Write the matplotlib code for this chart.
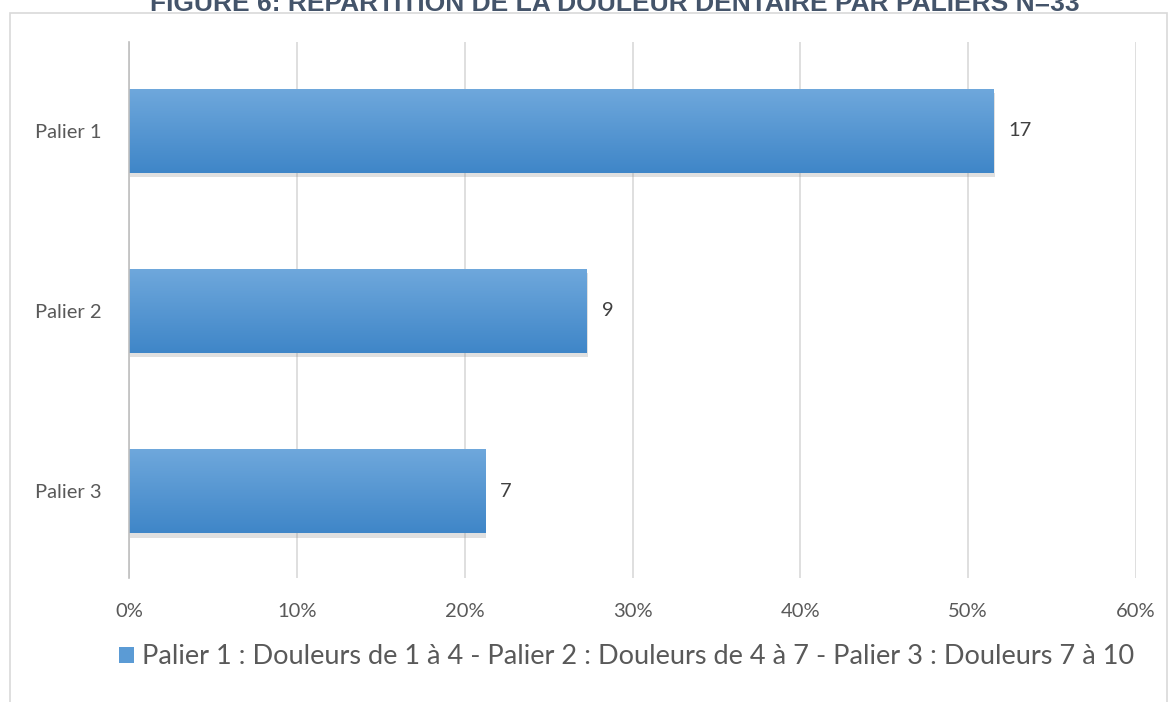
import numpy as np
import matplotlib.pyplot as plt
import matplotlib.patheffects as pe
from matplotlib.patches import Rectangle

categories = ['Palier 1', 'Palier 2', 'Palier 3']
counts = [17, 9, 7]
total = 33
percents = [c / total * 100 for c in counts]
xticks = [0, 10, 20, 30, 40, 50, 60]
legend_label = 'Palier 1 : Douleurs de 1 à 4 - Palier 2 : Douleurs de 4 à 7 - Palier 3 : Douleurs 7 à 10'
title = 'FIGURE 6: RÉPARTITION DE LA DOULEUR DENTAIRE PAR PALIERS N=33'

plt.rcParams['font.family'] = ['Lato', 'DejaVu Sans']

fig = plt.figure(figsize=(11.71, 7.02), dpi=100)

# outer chart frame
fig.patches.append(Rectangle((10 / 1171, -0.01), 1157 / 1171, 1 - 13 / 702 + 0.01,
                             transform=fig.transFigure, fill=False,
                             edgecolor='#d9d9d9', linewidth=1.2))

# title is cropped at the top edge like in the source image
fig.text(0.525, 1 - 11 / 702, title, ha='center', va='baseline',
         fontsize=19, fontweight='bold', color='#44546a', family='Liberation Sans')

ax = fig.add_axes([129 / 1171, 1 - 578 / 702, 1007 / 1171, 536 / 702])
y = np.arange(len(categories))
h = 0.47

grad = np.linspace(0, 1, 100).reshape(-1, 1)
top = np.array([0x6f, 0xa8, 0xdc]) / 255
bot = np.array([0x3f, 0x86, 0xc8]) / 255
img = top + (bot - top) * grad[..., None]
img = img.reshape(100, 1, 3)

bars = ax.barh(y, percents, height=h, color='#5b9bd5', zorder=3)
for b in bars:
    b.set_path_effects([pe.SimplePatchShadow(offset=(1, -3), shadow_rgbFace='#999999', alpha=0.3), pe.Normal()])
    x0, y0 = b.get_x(), b.get_y()
    w, hh = b.get_width(), b.get_height()
    im = ax.imshow(img, extent=(x0, x0 + w, y0 + hh, y0), aspect='auto', zorder=4,
                   interpolation='bilinear')
    im.set_clip_path(b)

for yi, p, c in zip(y, percents, counts):
    ax.text(p + 0.9, yi, str(c), va='center', ha='left', fontsize=14.5, color='#404040')

ax.set_xlim(0, 60)
ax.set_ylim(2.483, -0.494)
ax.set_xticks(xticks)
ax.set_xticklabels([f'{t}%' for t in xticks], fontsize=14.5, color='#595959')
ax.set_yticks(y)
ax.set_yticklabels(categories, fontsize=14.5, color='#595959')
ax.tick_params(length=0, pad=20)
ax.tick_params(axis='x', pad=18)
ax.grid(axis='x', color='#d9d9d9', linewidth=1.2, zorder=0)
for s in ['top', 'right', 'bottom']:
    ax.spines[s].set_visible(False)
ax.spines['left'].set_color('#bfbfbf')
ax.spines['left'].set_linewidth(1.2)
ax.spines['left'].set_zorder(5)

leg_handle = Rectangle((0, 0), 1, 1, facecolor='#5b9bd5')
fig.legend([leg_handle], [legend_label], loc='center', bbox_to_anchor=(0.535, 1 - 657 / 702),
           frameon=False, fontsize=19.5, labelcolor='#595959', handlelength=0.55, handleheight=0.55,
           handletextpad=0.3)

fig.savefig('out.png', dpi=100)
